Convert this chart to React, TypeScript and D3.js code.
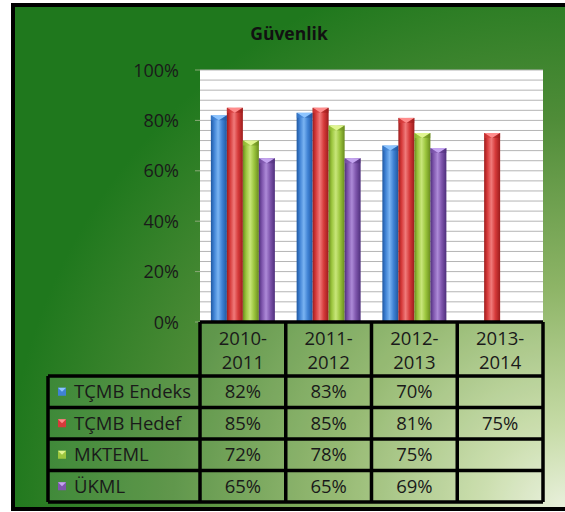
import React from "react";
import * as d3 from "d3";

const title = "Güvenlik";
const categories = ["2010-2011", "2011-2012", "2012-2013", "2013-2014"];
const headerLines = [["2010-", "2011"], ["2011-", "2012"], ["2012-", "2013"], ["2013-", "2014"]];
const seriesNames = ["TÇMB Endeks", "TÇMB Hedef", "MKTEML", "ÜKML"];
const tcmbEndeks: (number | null)[] = [82, 83, 70, null];
const tcmbHedef: (number | null)[] = [85, 85, 81, 75];
const mkteml: (number | null)[] = [72, 78, 75, null];
const ukml: (number | null)[] = [65, 65, 69, null];
const yTicks = [0, 20, 40, 60, 80, 100];
const gridStep = 4;

const seriesValues = [tcmbEndeks, tcmbHedef, mkteml, ukml];
const seriesColors = [
  { dark: "#1f57a0", main: "#3f82d4", light: "#7ab4f2", top: "#8cc4ff" },
  { dark: "#9c1c1c", main: "#d63a3a", light: "#f07a7a", top: "#ff8c8c" },
  { dark: "#6a8c1e", main: "#9cc63e", light: "#c8e67a", top: "#e0f590" },
  { dark: "#4f2f7c", main: "#7f56ad", light: "#ad8ad8", top: "#c4a4f0" },
];

const W = 565;
const H = 512;
const plot = { left: 200, right: 543, top: 70, bottom: 322 };
const table = { legendLeft: 48, headerTop: 322, headerBottom: 376, rowH: 31.5 };
const font = "'Open Sans', 'Liberation Sans', sans-serif";
const fs = 18.5;

export default function App() {
  const x0 = d3.scaleBand<string>().domain(categories).range([plot.left, plot.right]).padding(0);
  const bw = x0.bandwidth();
  const groupW = 64;
  const inset = (bw - groupW) / 2;
  const x1 = d3.scaleBand<string>().domain(seriesNames).range([inset, bw - inset]).padding(0);
  const y = d3.scaleLinear().domain([0, 100]).range([plot.bottom, plot.top]);
  const grid = d3.range(0, 100 + gridStep / 2, gridStep);

  const rowsTop = table.headerBottom;
  const rowY = (i: number) => rowsTop + i * table.rowH;
  const tableBottom = rowY(seriesNames.length);
  const colEdges = [...categories.map((c) => x0(c)!), plot.right];

  return (
    <svg width={W} height={H} style={{ position: "absolute", left: 0, top: 0 }}>
      <defs>
        <radialGradient id="bg" gradientUnits="userSpaceOnUse" cx={565} cy={510} r={560}>
          <stop offset="0" stopColor="#eaf1de" />
          <stop offset="0.15" stopColor="#c6dba6" />
          <stop offset="0.4" stopColor="#8db466" />
          <stop offset="0.7" stopColor="#4f8c38" />
          <stop offset="1" stopColor="#1f781d" />
        </radialGradient>
        {seriesColors.map((c, i) => (
          <linearGradient key={i} id={`bar${i}`} x1="0" x2="1" y1="0" y2="0">
            <stop offset="0" stopColor={c.dark} />
            <stop offset="0.2" stopColor={c.main} />
            <stop offset="0.45" stopColor={c.light} />
            <stop offset="0.7" stopColor={c.main} />
            <stop offset="1" stopColor={c.dark} />
          </linearGradient>
        ))}
      </defs>

      <rect x={13} y={5} width={W} height={504} fill="url(#bg)" stroke="#000" strokeWidth={4} />

      <text x={289} y={40} textAnchor="middle" fontFamily={font} fontWeight="bold" fontSize={17.5} fill="#111">
        {title}
      </text>

      {/* plot area */}
      <rect x={plot.left} y={plot.top} width={plot.right - plot.left} height={plot.bottom - plot.top} fill="#fff" />
      {grid.map((g) => (
        <line key={g} x1={plot.left} x2={plot.right} y1={y(g)} y2={y(g)} stroke="#b4b4b4" strokeWidth={1} />
      ))}
      {yTicks.map((t) => (
        <g key={t}>
          <line x1={plot.left - 5} x2={plot.left} y1={y(t)} y2={y(t)} stroke="#8aa878" strokeWidth={1} />
          <text x={179} y={y(t) + 6.5} textAnchor="end" fontFamily={font} fontSize={18} fill="#1a1a1a">
            {t}%
          </text>
        </g>
      ))}

      {/* bars */}
      {categories.map((cat, ci) =>
        seriesNames.map((s, si) => {
          const v = seriesValues[si][ci];
          if (v == null) return null;
          const bx = x0(cat)! + x1(s)!;
          const w = x1.bandwidth();
          const by = y(v);
          const c = seriesColors[si];
          return (
            <g key={`${ci}-${si}`}>
              <rect x={bx} y={by} width={w} height={plot.bottom - by} fill={`url(#bar${si})`} />
              <polygon points={`${bx},${by} ${bx + w},${by} ${bx + w / 2},${by + 5}`} fill={c.top} />
              <polygon points={`${bx},${by} ${bx + w / 2},${by + 5} ${bx},${by + 5}`} fill={c.main} opacity={0.6} />
              <polygon points={`${bx + w},${by} ${bx + w / 2},${by + 5} ${bx + w},${by + 5}`} fill={c.dark} opacity={0.5} />
            </g>
          );
        })
      )}

      {/* data table */}
      <g>
        <rect x={plot.left} y={table.headerTop} width={plot.right - plot.left} height={table.headerBottom - table.headerTop} fill="#fff" fillOpacity={0.1} />
        <rect x={table.legendLeft} y={rowsTop} width={plot.right - table.legendLeft} height={tableBottom - rowsTop} fill="#fff" fillOpacity={0.1} />
        {categories.map((cat, ci) => (
          <text key={cat} textAnchor="middle" fontFamily={font} fontSize={fs} fill="#1a1a1a">
            <tspan x={x0(cat)! + bw / 2} y={345}>{headerLines[ci][0]}</tspan>
            <tspan x={x0(cat)! + bw / 2} y={369}>{headerLines[ci][1]}</tspan>
          </text>
        ))}
        {seriesNames.map((s, si) => {
          const cy = rowY(si) + table.rowH / 2;
          const c = seriesColors[si];
          return (
            <g key={s}>
              <rect x={58} y={cy - 4} width={8} height={8} fill={c.main} />
              <polygon points={`58,${cy - 4} 66,${cy - 4} 62,${cy}`} fill={c.top} />
              <text x={74} y={cy + 6.5} fontFamily={font} fontSize={fs} fill="#1a1a1a">
                {s}
              </text>
              {categories.map((cat, ci) => {
                const v = seriesValues[si][ci];
                return v == null ? null : (
                  <text key={cat} x={x0(cat)! + bw / 2} y={cy + 6.5} textAnchor="middle" fontFamily={font} fontSize={fs} fill="#1a1a1a">
                    {v}%
                  </text>
                );
              })}
            </g>
          );
        })}
        {/* borders */}
        <g stroke="#000" strokeWidth={3.5} fill="none">
          <line x1={plot.left} x2={plot.right} y1={table.headerTop} y2={table.headerTop} />
          {colEdges.map((xe, i) => (
            <line key={i} x1={xe} x2={xe} y1={table.headerTop} y2={tableBottom} />
          ))}
          {d3.range(seriesNames.length + 1).map((i) => (
            <line key={i} x1={table.legendLeft} x2={plot.right} y1={rowY(i)} y2={rowY(i)} />
          ))}
          <line x1={table.legendLeft} x2={table.legendLeft} y1={rowsTop} y2={tableBottom} />
        </g>
      </g>
    </svg>
  );
}
